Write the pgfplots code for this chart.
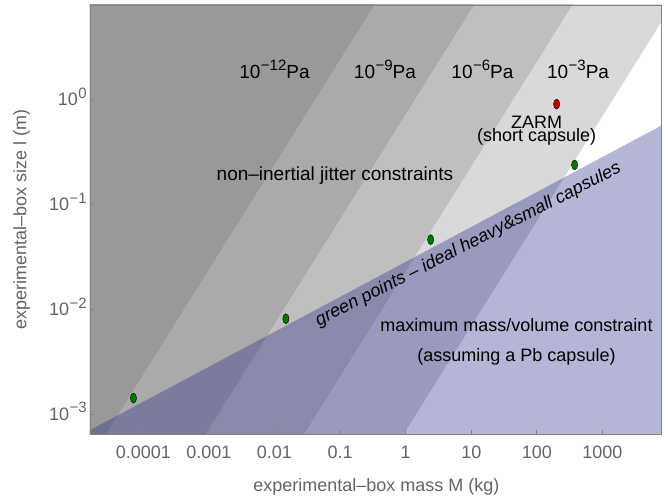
\documentclass[border=0pt]{standalone}
\usepackage{fontspec}
\setmainfont{Liberation Sans}
\usepackage{pgfplots}
\pgfplotsset{compat=1.18}

\definecolor{gone}{RGB}{153,153,153}
\definecolor{gtwo}{RGB}{170,170,170}
\definecolor{gthree}{RGB}{191,191,191}
\definecolor{gfour}{RGB}{217,217,217}
\definecolor{massblue}{RGB}{24,24,127}
\definecolor{ptgreen}{RGB}{0,122,0}
\definecolor{ptred}{RGB}{195,0,0}
\definecolor{axtext}{RGB}{100,100,100}
\definecolor{axline}{RGB}{130,130,130}

\newcommand{\sups}[1]{\kern0.5pt\raisebox{0.42em}{\fontsize{15}{15}\selectfont #1}}
\newcommand{\pa}[1]{{\fontsize{19}{21}\selectfont 10\sups{#1}Pa}}

\begin{document}
\fontsize{18}{21}\selectfont
\begin{tikzpicture}
\useasboundingbox (0,0) rectangle (668pt,498pt);
\begin{axis}[
  at={(90pt,64pt)}, anchor=south west,
  scale only axis, width=571pt, height=429pt,
  xmode=log, ymode=log,
  xmin=1.54e-5, xmax=7800,
  ymin=6.45e-4, ymax=7.93,
  xtick={1e-4,1e-3,1e-2,1e-1,1,10,100,1000},
  xticklabels={0.0001,0.001,0.01,0.1,1,10,100,1000},
  ytick={1e-3,1e-2,1e-1,1},
  yticklabels={10\sups{−3},10\sups{−2},10\sups{−1},10\sups{0}},
  xminorticks=false, yminorticks=false,
  tick pos=left, tick align=inside, major tick length=4pt,
  tick style={draw=axline, line width=0.8pt},
  axis line style={draw=axline, line width=0.8pt},
  ticklabel style={text=axtext},
  xticklabel style={anchor=center, yshift=-18pt},
  yticklabel style={anchor=base east, inner sep=0pt, xshift=-3pt, yshift=-6.5pt},
  xlabel={experimental–box mass M (kg)},
  ylabel={experimental–box size l (m)},
  label style={text=axtext},
  xlabel style={at={(axis description cs:0.5017,-0.1228)}, anchor=center},
  ylabel style={at={(axis description cs:-0.1196,0.501)}, anchor=center},
  axis on top,
]
% jitter constraint bands, log l = log M + c
\addplot[draw=none, fill=gfour] coordinates {(1e-10,6.92e-14) (1e6,692) (1e-10,692)} --cycle;
\addplot[draw=none, fill=gthree] coordinates {(1e-10,2.29e-12) (1e6,2.29e4) (1e-10,2.29e4)} --cycle;
\addplot[draw=none, fill=gtwo] coordinates {(1e-10,7.24e-11) (1e6,7.24e5) (1e-10,7.24e5)} --cycle;
\addplot[draw=none, fill=gone] coordinates {(1e-10,2.4e-9) (1e6,2.4e7) (1e-10,2.4e7)} --cycle;
% max mass/volume constraint
\addplot[draw=none, fill=massblue, fill opacity=0.32] coordinates {(1e-10,1.309e-5) (1e6,2.818) (1e6,1e-10) (1e-10,1e-10)} --cycle;
% points
\addplot[only marks, mark=*, mark size=5pt, mark options={xscale=0.62, draw=none, fill=ptgreen}]
  coordinates {(7.08e-5,1.42e-3) (0.0149,0.0081) (2.4,0.046) (376,0.237)};
\addplot[only marks, mark=*, mark size=5pt, mark options={xscale=0.62, draw=none, fill=ptred}]
  coordinates {(200,0.9)};

\node[anchor=base] at (0.01,1.585) {\pa{−12}};
\node[anchor=base] at (0.483,1.585) {\pa{−9}};
\node[anchor=base] at (14.8,1.585) {\pa{−6}};
\node[anchor=base] at (424,1.585) {\pa{−3}};
\node[anchor=base] at (99.3,0.529) {ZARM};
\node[anchor=base] at (99.3,0.394) {(short capsule)};
\node[anchor=base, font=\fontsize{19}{21}\selectfont] at (0.0836,0.170) {non–inertial jitter constraints};
\node[anchor=base, rotate=27] at (9.73,0.0374) {\itshape green points – ideal heavy\&small capsules};
\node[anchor=base] at (48.9,6.18e-3) {maximum mass/volume constraint};
\node[anchor=base] at (48.9,3.15e-3) {(assuming a Pb capsule)};
\end{axis}
\end{tikzpicture}
\end{document}
